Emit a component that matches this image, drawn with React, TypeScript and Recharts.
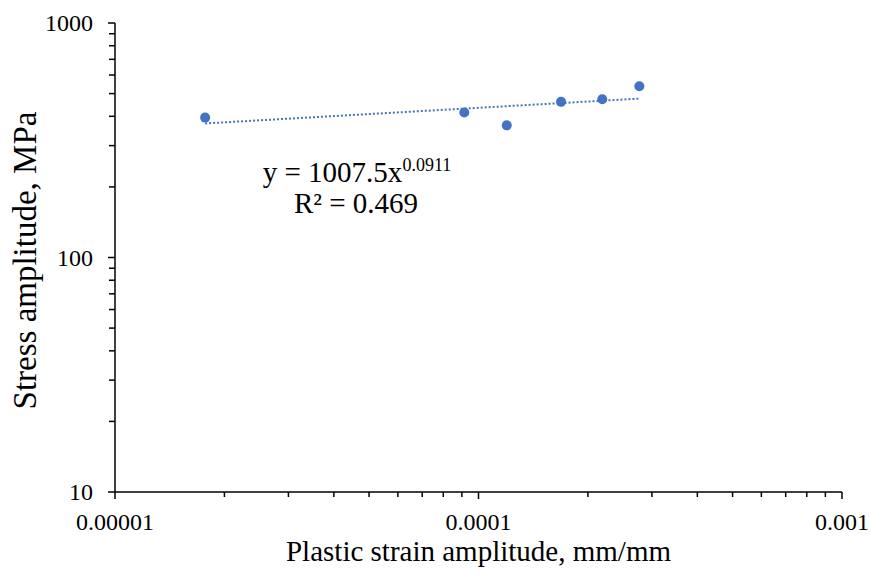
import { ScatterChart, Scatter, XAxis, YAxis, Customized } from 'recharts'

const strainAmplitude = [1.77e-5, 9.14e-5, 1.196e-4, 1.687e-4, 2.19e-4, 2.77e-4]
const stressAmplitude = [395, 415, 366, 461, 473, 537]

// power trendline end points, y = 1007.5x^0.0911
const trendStrain = [1.77e-5, 2.77e-4]
const trendStress = [373, 476]

const xMajorTicks = [0.00001, 0.0001, 0.001]
const xTickLabels = ['0.00001', '0.0001', '0.001']
const xMinorTicks = [
  0.00002, 0.00003, 0.00004, 0.00005, 0.00006, 0.00007, 0.00008, 0.00009,
  0.0002, 0.0003, 0.0004, 0.0005, 0.0006, 0.0007, 0.0008, 0.0009,
]
const yMajorTicks = [10, 100, 1000]
const yTickLabels = ['10', '100', '1000']
const yMinorTicks = [20, 30, 40, 50, 60, 70, 80, 90, 200, 300, 400, 500, 600, 700, 800, 900]

const points = strainAmplitude.map((x, i) => ({ x, y: stressAmplitude[i] }))
const trend = trendStrain.map((x, i) => ({ x, y: trendStress[i] }))

const FONT = '"Times New Roman", "Liberation Serif", serif'
const BLUE = '#4472C4'

function XTick({ x, y, payload }: any) {
  const i = xMajorTicks.indexOf(payload.value)
  const major = i >= 0
  return (
    <g>
      <line x1={x} x2={x} y1={y} y2={y + (major ? 7 : 5)} stroke="#000" strokeWidth={1.5} />
      {major && (
        <text x={x} y={y + 38} textAnchor="middle" fontSize={24} fontFamily={FONT} fill="#000">
          {xTickLabels[i]}
        </text>
      )}
    </g>
  )
}

function YTick({ x, y, payload }: any) {
  const i = yMajorTicks.indexOf(payload.value)
  const major = i >= 0
  return (
    <g>
      <line x1={x - (major ? 7 : 6)} x2={x} y1={y} y2={y} stroke="#000" strokeWidth={1.5} />
      {major && (
        <text x={x - 22} y={y + 8} textAnchor="end" fontSize={24} fontFamily={FONT} fill="#000">
          {yTickLabels[i]}
        </text>
      )}
    </g>
  )
}

const XTitle = ({ viewBox }: any) => (
  <text x={viewBox.x + viewBox.width / 2} y={viewBox.y + 69} textAnchor="middle" fontSize={29} fontFamily={FONT} fill="#000">
    Plastic strain amplitude, mm/mm
  </text>
)

const YTitle = ({ viewBox }: any) => {
  const cx = 36
  const cy = viewBox.y + viewBox.height / 2 + 3
  return (
    <text x={cx} y={cy} transform={`rotate(-90, ${cx}, ${cy})`} textAnchor="middle" fontSize={33} fontFamily={FONT} fill="#000">
      Stress amplitude, MPa
    </text>
  )
}

const Equation = () => (
  <g fontFamily={FONT} fill="#000">
    <text x={357} y={182} textAnchor="middle" fontSize={29}>
      y = 1007.5x<tspan fontSize={18} dy={-11}>0.0911</tspan>
    </text>
    <text x={356} y={213} textAnchor="middle" fontSize={29}>
      R² = 0.469
    </text>
  </g>
)

export default function App() {
  return (
    <div style={{ position: 'absolute', left: 0, top: 0, width: 870, height: 574, background: '#fff', fontFamily: FONT }}>
      <ScatterChart width={870} height={574} margin={{ top: 23, right: 28, bottom: 0, left: 0 }}>
        <XAxis
          type="number"
          dataKey="x"
          scale="log"
          domain={[0.00001, 0.001]}
          allowDataOverflow
          ticks={[...xMajorTicks, ...xMinorTicks]}
          interval={0}
          tick={XTick}
          tickLine={false}
          tickSize={0}
          tickMargin={0}
          axisLine={{ stroke: '#000', strokeWidth: 1.5 }}
          height={82}
          label={XTitle}
        />
        <YAxis
          type="number"
          dataKey="y"
          scale="log"
          domain={[10, 1000]}
          allowDataOverflow
          ticks={[...yMajorTicks, ...yMinorTicks]}
          interval={0}
          tick={YTick}
          tickLine={false}
          tickSize={0}
          tickMargin={0}
          axisLine={{ stroke: '#000', strokeWidth: 1.5 }}
          width={115}
          label={YTitle}
        />
        <Scatter
          data={trend}
          isAnimationActive={false}
          line={{ stroke: BLUE, strokeWidth: 2, strokeDasharray: '2 2' }}
          shape={() => <g />}
        />
        <Scatter
          data={points}
          isAnimationActive={false}
          shape={(p: any) => <circle cx={p.cx} cy={p.cy} r={5} fill={BLUE} />}
        />
        <Customized component={Equation} />
      </ScatterChart>
    </div>
  )
}
